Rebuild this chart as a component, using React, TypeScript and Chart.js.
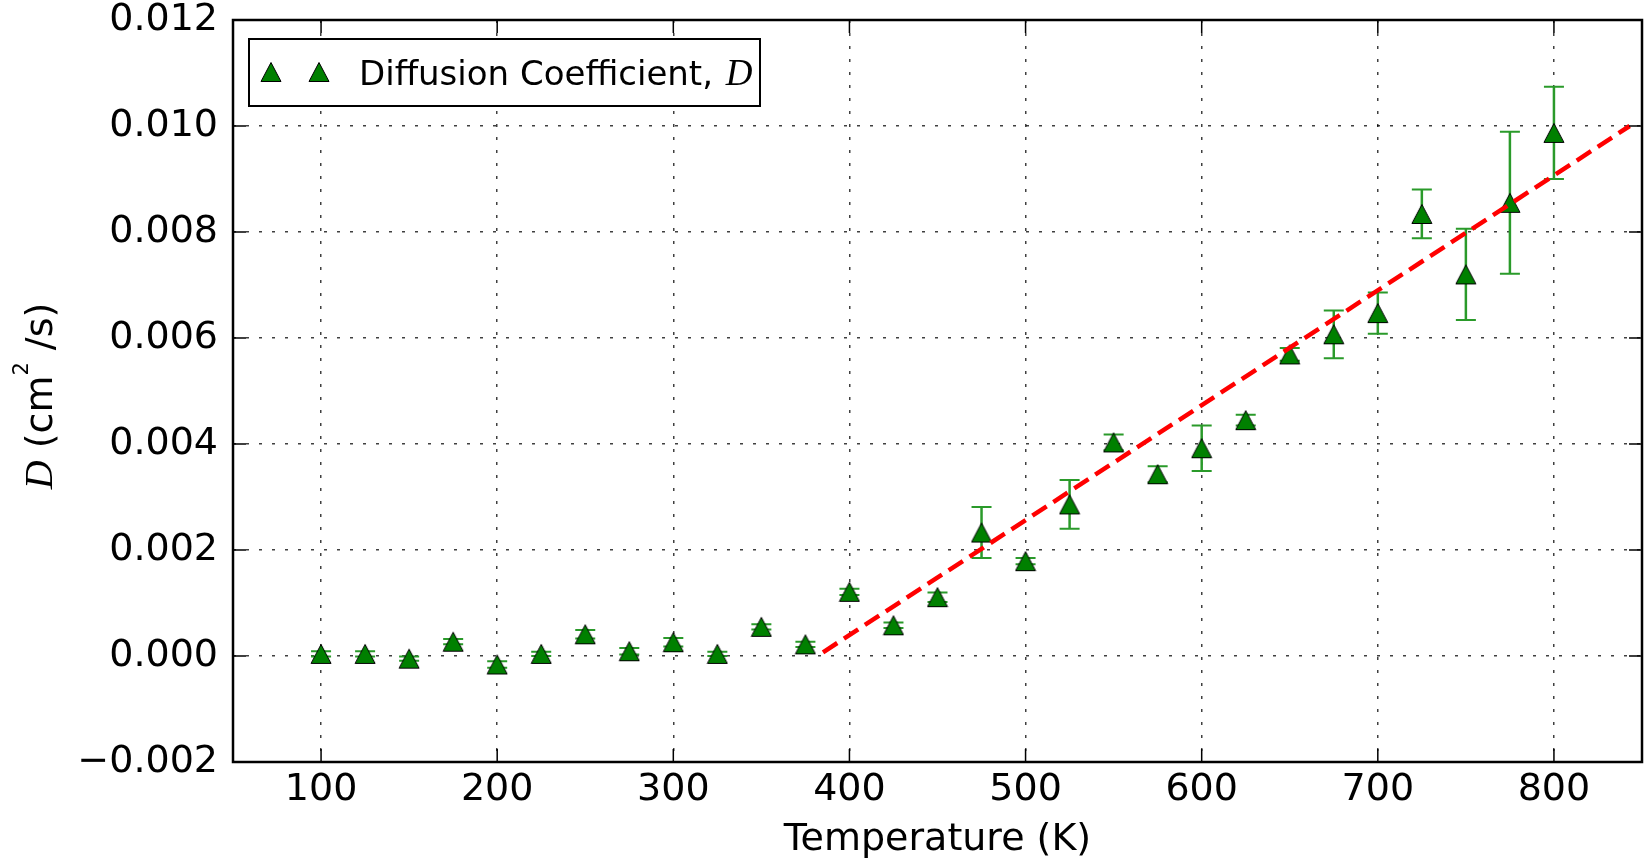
import React, { useEffect, useRef } from 'react';
import { Chart, registerables } from 'chart.js';

Chart.register(...registerables);

// ---- Data ----
const temperatures = [100, 125, 150, 175, 200, 225, 250, 275, 300, 325, 350, 375, 400, 425, 450, 475, 500, 525, 550, 575, 600, 625, 650, 675, 700, 725, 750, 775, 800];
const diffusion = [0.00004, 0.00004, -0.00005, 0.00027, -0.00016, 0.00004, 0.00041, 0.00009, 0.00026, 0.00004, 0.00055, 0.00022, 0.00121, 0.00058, 0.00111, 0.00233, 0.00179, 0.00286, 0.00403, 0.00343, 0.00392, 0.00445, 0.00569, 0.00607, 0.00647, 0.00834, 0.0072, 0.00855, 0.00987];
const diffusionErr = [0.00005, 0.00005, 0.00004, 0.00005, 0.00006, 0.00004, 0.00008, 0.00006, 0.00008, 0.00004, 0.00005, 0.00005, 0.00006, 0.00005, 0.00009, 0.00048, 0.00006, 0.00046, 0.00015, 0.00015, 0.00043, 0.0001, 0.00012, 0.00045, 0.00039, 0.00046, 0.00086, 0.00134, 0.00087];
const fitTemperatures = [385, 843];
const fitDiffusion = [0.00007, 0.01];
const xTicks = [100, 200, 300, 400, 500, 600, 700, 800];
const yTicks = [-0.002, 0, 0.002, 0.004, 0.006, 0.008, 0.01, 0.012];
const legendLabel = 'Diffusion Coefficient, ';
const legendSymbol = 'D';
const xTitle = 'Temperature (K)';

const W = 1645;
const H = 858;
const SANS = '"DejaVu Sans", sans-serif';
const SERIF = '"Liberation Serif", "DejaVu Serif", serif';

function makeTriangle(): HTMLCanvasElement {
  const c = document.createElement('canvas');
  c.width = 22;
  c.height = 22;
  const g = c.getContext('2d')!;
  g.beginPath();
  g.moveTo(11, 1.5);
  g.lineTo(1, 20.5);
  g.lineTo(21, 20.5);
  g.closePath();
  g.fillStyle = '#008000';
  g.fill();
  g.strokeStyle = '#000';
  g.lineWidth = 1;
  g.stroke();
  return c;
}

const errorBarPlugin = {
  id: 'errorBars',
  beforeDatasetsDraw(chart: any) {
    const { ctx, scales } = chart;
    const x = scales.x;
    const y = scales.y;
    ctx.save();
    ctx.strokeStyle = '#2a9a2a';
    temperatures.forEach((t, i) => {
      const px = x.getPixelForValue(t);
      const top = y.getPixelForValue(diffusion[i] + diffusionErr[i]);
      const bot = y.getPixelForValue(diffusion[i] - diffusionErr[i]);
      ctx.lineWidth = 2.5;
      ctx.beginPath();
      ctx.moveTo(px, top);
      ctx.lineTo(px, bot);
      ctx.stroke();
      ctx.lineWidth = 2;
      ctx.beginPath();
      ctx.moveTo(px - 10, top);
      ctx.lineTo(px + 10, top);
      ctx.moveTo(px - 10, bot);
      ctx.lineTo(px + 10, bot);
      ctx.stroke();
    });
    ctx.restore();
  },
};

function decorPlugin(tri: HTMLCanvasElement) {
  return {
    id: 'decor',
    afterDraw(chart: any) {
      const { ctx, chartArea, scales } = chart;
      const { left, right, top, bottom } = chartArea;
      const x = scales.x;
      const y = scales.y;
      ctx.save();
      // inward ticks
      ctx.strokeStyle = '#000';
      ctx.lineWidth = 1.5;
      const tl = 13;
      ctx.beginPath();
      xTicks.forEach((v) => {
        const px = x.getPixelForValue(v);
        ctx.moveTo(px, bottom);
        ctx.lineTo(px, bottom - tl);
        ctx.moveTo(px, top);
        ctx.lineTo(px, top + tl);
      });
      yTicks.forEach((v) => {
        const py = y.getPixelForValue(v);
        ctx.moveTo(left, py);
        ctx.lineTo(left + tl, py);
        ctx.moveTo(right, py);
        ctx.lineTo(right - tl, py);
      });
      ctx.stroke();
      // frame
      ctx.lineWidth = 2.5;
      ctx.strokeRect(left, top, right - left, bottom - top);

      // legend
      const lx = left + 16;
      const ly = top + 19;
      const lw = 511;
      const lh = 67;
      ctx.fillStyle = '#fff';
      ctx.fillRect(lx, ly, lw, lh);
      ctx.lineWidth = 2;
      ctx.strokeStyle = '#000';
      ctx.strokeRect(lx, ly, lw, lh);
      const cy = ly + 33;
      ctx.drawImage(tri, lx + 22 - 11, cy - 11);
      ctx.drawImage(tri, lx + 70 - 11, cy - 11);
      ctx.fillStyle = '#000';
      ctx.textBaseline = 'alphabetic';
      ctx.textAlign = 'left';
      ctx.font = `34px ${SANS}`;
      ctx.fillText(legendLabel, lx + 110, ly + 46);
      const w1 = ctx.measureText(legendLabel).width;
      ctx.font = `italic 37px ${SERIF}`;
      ctx.fillText(legendSymbol, lx + 110 + w1 + 2, ly + 46);

      // x title
      ctx.font = `38px ${SANS}`;
      ctx.textAlign = 'center';
      ctx.fillText(xTitle, (left + right) / 2, 850);

      // y title: D (cm^2 /s)
      ctx.textAlign = 'left';
      const parts = [
        { t: 'D', f: `italic 40px ${SERIF}`, dy: 0 },
        { t: ' (cm', f: `38px ${SANS}`, dy: 0 },
        { t: '2', f: `21px ${SANS}`, dy: -24 },
        { t: ' /s)', f: `38px ${SANS}`, dy: 0 },
      ];
      let total = 0;
      const widths = parts.map((p) => {
        ctx.font = p.f;
        const w = ctx.measureText(p.t).width;
        total += w;
        return w;
      });
      ctx.translate(52, (top + bottom) / 2 + 5);
      ctx.rotate(-Math.PI / 2);
      let cx = -total / 2;
      parts.forEach((p, i) => {
        ctx.font = p.f;
        ctx.fillText(p.t, cx, p.dy);
        cx += widths[i];
      });
      ctx.restore();
    },
  };
}

function fmtY(v: number): string {
  const s = (Math.abs(v) < 1e-12 ? 0 : v).toFixed(3);
  return s.replace('-', '\u2212');
}

export default function App() {
  const ref = useRef<HTMLCanvasElement | null>(null);

  useEffect(() => {
    document.body.style.margin = '0';
    const canvas = ref.current;
    if (!canvas) return;
    const tri = makeTriangle();
    const chart = new Chart(canvas, {
      type: 'scatter',
      data: {
        datasets: [
          {
            type: 'scatter',
            label: 'Diffusion Coefficient, D',
            data: temperatures.map((t, i) => ({ x: t, y: diffusion[i] })),
            pointStyle: tri as any,
            pointRadius: 10,
            showLine: false,
            order: 1,
          } as any,
          {
            type: 'line',
            label: 'fit',
            data: fitTemperatures.map((t, i) => ({ x: t, y: fitDiffusion[i] })),
            borderColor: '#ff0000',
            borderWidth: 4.5,
            borderDash: [17, 8],
            pointRadius: 0,
            fill: false,
            showLine: true,
            order: 0,
          } as any,
        ],
      },
      options: {
        responsive: false,
        animation: false,
        devicePixelRatio: 1,
        layout: { autoPadding: false, padding: { left: 0, right: 3, top: 20, bottom: 0 } },
        plugins: {
          legend: { display: false },
          tooltip: { enabled: false },
        },
        scales: {
          x: {
            type: 'linear',
            min: 50,
            max: 850,
            afterBuildTicks: (scale: any) => {
              scale.ticks = xTicks.map((v) => ({ value: v }));
            },
            afterFit: (scale: any) => {
              scale.height = 96;
              scale.paddingLeft = 0;
              scale.paddingRight = 0;
              scale.paddingTop = 0;
              scale.paddingBottom = 0;
            },
            grid: {
              color: 'rgba(0,0,0,0.75)',
              lineWidth: 1.5,
              drawTicks: false,
            },
            border: { display: false, dash: [3, 10] },
            ticks: {
              color: '#000',
              font: { family: SANS, size: 38 },
              padding: 5,
              maxRotation: 0,
              autoSkip: false,
              callback: (v: any) => String(v),
            },
          },
          y: {
            type: 'linear',
            min: -0.002,
            max: 0.012,
            afterBuildTicks: (scale: any) => {
              scale.ticks = yTicks.map((v) => ({ value: v }));
            },
            afterFit: (scale: any) => {
              scale.width = 233;
              scale.paddingLeft = 0;
              scale.paddingRight = 0;
              scale.paddingTop = 0;
              scale.paddingBottom = 0;
            },
            grid: {
              color: 'rgba(0,0,0,0.75)',
              lineWidth: 1.5,
              drawTicks: false,
            },
            border: { display: false, dash: [3, 10] },
            ticks: {
              color: '#000',
              font: { family: SANS, size: 38 },
              padding: 15,
              autoSkip: false,
              callback: (v: any) => fmtY(Number(v)),
            },
          },
        },
      } as any,
      plugins: [errorBarPlugin, decorPlugin(tri)],
    });
    return () => {
      chart.destroy();
    };
  }, []);

  return (
    <div style={{ position: 'absolute', left: 0, top: 0, width: W, height: H, background: '#fff' }}>
      <canvas ref={ref} width={W} height={H} style={{ display: 'block', width: W, height: H }} />
    </div>
  );
}
